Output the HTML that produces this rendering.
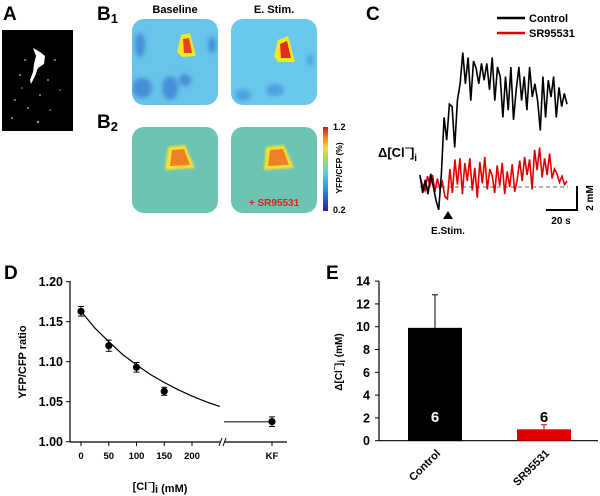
<!DOCTYPE html>
<html><head><meta charset="utf-8">
<style>
html,body{margin:0;padding:0;background:#fff;}
svg{display:block;font-family:"Liberation Sans",Arial,sans-serif;}
</style></head>
<body>
<svg id="fig" width="600" height="496" viewBox="0 0 600 496">
<defs>
  <filter id="blur2"><feGaussianBlur stdDeviation="2"/></filter>
  <filter id="blur1"><feGaussianBlur stdDeviation="1"/></filter>
  <linearGradient id="cbar" x1="0" y1="1" x2="0" y2="0">
    <stop offset="0" stop-color="#2a1f8a"/><stop offset="0.25" stop-color="#2a8fe0"/>
    <stop offset="0.45" stop-color="#50d0e0"/><stop offset="0.6" stop-color="#9ad870"/>
    <stop offset="0.75" stop-color="#f4e020"/><stop offset="0.88" stop-color="#f08020"/>
    <stop offset="1" stop-color="#c01818"/>
  </linearGradient>
  <clipPath id="t1"><rect x="132" y="19" width="86" height="86" rx="12"/></clipPath>
  <clipPath id="t2"><rect x="231" y="19" width="86" height="86" rx="12"/></clipPath>
  <clipPath id="t3"><rect x="132" y="127" width="86" height="86" rx="12"/></clipPath>
  <clipPath id="t4"><rect x="231" y="127" width="86" height="86" rx="12"/></clipPath>
</defs>

<!-- Panel A -->
<text x="3" y="20" font-size="19" font-weight="bold">A</text>
<g>
  <rect x="2" y="30" width="71" height="101" fill="#000"/>
  <path d="M33 48 L40 52 L45 56 L44 64 L38 68 L35 76 L31 84 L30 80 L33 72 L34 64 L36 56 Z" fill="#fff"/>
  <g fill="#ddd" opacity="0.7">
    <circle cx="25" cy="60" r="1"/><circle cx="20" cy="75" r="1"/><circle cx="48" cy="80" r="1"/>
    <circle cx="15" cy="100" r="1"/><circle cx="40" cy="95" r="1"/><circle cx="12" cy="118" r="1"/>
    <circle cx="38" cy="122" r="1.2"/><circle cx="55" cy="60" r="1"/><circle cx="28" cy="108" r="1"/>
    <circle cx="50" cy="110" r="0.8"/><circle cx="22" cy="88" r="0.8"/><circle cx="60" cy="90" r="0.8"/>
  </g>
</g>

<!-- Panel B -->
<text x="97" y="20" font-size="19" font-weight="bold">B<tspan font-size="13" dy="3">1</tspan></text>
<text x="97" y="128" font-size="19" font-weight="bold">B<tspan font-size="13" dy="3">2</tspan></text>
<text x="175" y="13" font-size="11" font-weight="bold" text-anchor="middle">Baseline</text>
<text x="274" y="13" font-size="11" font-weight="bold" text-anchor="middle">E. Stim.</text>

<g clip-path="url(#t1)">
  <rect x="132" y="19" width="86" height="86" fill="#68c4ea"/>
  <g fill="#3a78d0" opacity="0.7" filter="url(#blur2)">
    <ellipse cx="142" cy="88" rx="10" ry="10"/><ellipse cx="170" cy="88" rx="8" ry="12"/>
    <ellipse cx="140" cy="45" rx="5" ry="12"/><ellipse cx="185" cy="80" rx="6" ry="6"/><ellipse cx="212" cy="45" rx="4" ry="8"/>
  </g>
  <path d="M181 35 L190 33 L196 56 L182 57 L177 52 Z" fill="#f0e820"/>
  <path d="M183 39 L189 38 L192 53 L184 53 Z" fill="#e84020"/>
</g>
<g clip-path="url(#t2)">
  <rect x="231" y="19" width="86" height="86" fill="#6ac8ec"/>
  <g fill="#3a80d8" opacity="0.55" filter="url(#blur2)">
    <ellipse cx="243" cy="95" rx="8" ry="6"/><ellipse cx="275" cy="90" rx="9" ry="6"/><ellipse cx="310" cy="60" rx="3" ry="6"/>
  </g>
  <path d="M278 40 L288 36 L295 62 L278 62 L274 56 Z" fill="#f0e820"/>
  <path d="M280 44 L287 41 L291 58 L281 58 Z" fill="#e03020"/>
</g>
<g clip-path="url(#t3)">
  <rect x="132" y="127" width="86" height="86" fill="#6cc4b4"/>
  <path d="M168 147 L185 145 L195 168 L165 170 Z" fill="#f4e030" filter="url(#blur1)"/>
  <path d="M172 150 L184 149 L190 165 L170 166 Z" fill="#f08028"/>
</g>
<g clip-path="url(#t4)">
  <rect x="231" y="127" width="86" height="86" fill="#6cc4b2"/>
  <path d="M266 147 L284 145 L294 168 L264 170 Z" fill="#f4e030" filter="url(#blur1)"/>
  <path d="M270 150 L283 149 L289 165 L268 166 Z" fill="#f08028"/>
  <text x="274" y="206" font-size="10" font-weight="bold" fill="#e02020" text-anchor="middle">+ SR95531</text>
</g>
<rect x="323" y="127" width="5" height="84" fill="url(#cbar)"/>
<text x="333" y="130" font-size="9" font-weight="bold">1.2</text>
<text x="333" y="213" font-size="9" font-weight="bold">0.2</text>
<text transform="translate(342,168) rotate(-90)" font-size="8.5" font-weight="bold" text-anchor="middle">YFP/CFP (%)</text>

<!-- Panel C -->
<text x="366" y="20" font-size="19" font-weight="bold">C</text>
<g>
  <line x1="497" y1="18" x2="525" y2="18" stroke="#000" stroke-width="2.5"/>
  <text x="529" y="22" font-size="11" font-weight="bold">Control</text>
  <line x1="497" y1="33" x2="525" y2="33" stroke="#e00000" stroke-width="2.5"/>
  <text x="529" y="37" font-size="11" font-weight="bold">SR95531</text>
</g>
<text x="378" y="157" font-size="13" font-weight="bold">Δ[Cl<tspan font-size="9" dy="-6">−</tspan><tspan dy="6">]</tspan><tspan font-size="10" dy="4">i</tspan></text>
<line x1="420" y1="187" x2="568" y2="187" stroke="#333" stroke-width="0.8" stroke-dasharray="4,3"/>
<g id="traces"></g>
<line x1="577" y1="186" x2="577" y2="210" stroke="#000" stroke-width="2"/>
<line x1="546" y1="210" x2="578" y2="210" stroke="#000" stroke-width="2"/>
<text transform="translate(593,198) rotate(-90)" font-size="10" font-weight="bold" text-anchor="middle">2 mM</text>
<text x="561" y="224" font-size="10" font-weight="bold" text-anchor="middle">20 s</text>
<path d="M448 211 L453 219 L443 219 Z" fill="#000"/>
<text x="448" y="234" font-size="10" font-weight="bold" text-anchor="middle">E.Stim.</text>

<!-- Panel D -->
<text x="4" y="279" font-size="19" font-weight="bold">D</text>
<g id="chartD"></g>
<text transform="translate(26,362) rotate(-90)" font-size="11" font-weight="bold" text-anchor="middle">YFP/CFP ratio</text>
<text x="160" y="490" font-size="11" font-weight="bold" text-anchor="middle">[Cl<tspan font-size="7" dy="-5">−</tspan><tspan dy="5">]</tspan><tspan dy="3">i</tspan><tspan dy="-1"> (mM)</tspan></text>

<!-- Panel E -->
<text x="326" y="279" font-size="19" font-weight="bold">E</text>
<g id="chartE"></g>
<text transform="translate(342,362) rotate(-90)" font-size="10" font-weight="bold" text-anchor="middle">Δ[Cl<tspan font-size="7" dy="-5">−</tspan><tspan dy="5">]</tspan><tspan dy="3">i</tspan><tspan dy="-3"> (mM)</tspan></text>
</svg>

<script>
// ---- Panel C data (mM) ----
const controlTrace = [1.0,-0.5,0.6,-0.6,1.1,0,-1.1,-1.9,1.1,5.8,3.9,6.9,6.7,3.3,7.2,8.6,11.2,8.6,10.8,7.2,10.5,9.9,8.6,10.3,8.9,10.3,8.1,10.8,7.2,10,9.2,5.8,9.2,6.4,10,5.6,8.1,10,7.2,9.2,6.4,10,7.5,8.6,7.2,4.7,9.2,5.8,8.9,7.5,9.2,5.8,8.3,6.7,7.8,6.9];
const srTrace = [0.8,0.2,-0.3,0.9,0.1,1.0,-0.4,0.7,-0.2,0.4,-0.8,-1.0,1.5,-0.5,2.3,0.2,2.4,-0.6,2.0,0.5,2.4,-0.3,1.6,-0.9,2.1,0.3,2.5,-0.2,1.5,0.9,-0.5,1.8,0.1,2.0,-0.6,1.3,0.0,1.9,-0.4,0.6,2.2,0.5,2.5,1.0,2.3,-0.2,3.1,1.4,3.3,0.8,2.4,1.0,2.8,0.7,1.5,1.1,0.4,0.9,0.2,0.5];

// ---- Panel D data ----
const dConc = [0,50,100,150];
const dRatio = [1.163,1.120,1.093,1.063];
const dErr = [0.006,0.007,0.006,0.005];
const kfRatio = 1.025;
const kfErr = 0.006;
const fitConc = [0,25,50,75,100,125,150,175,200,225,250];
const fitRatio = [1.163,1.142,1.125,1.109,1.096,1.084,1.074,1.065,1.057,1.050,1.044];
const dYTicks = ["1.00","1.05","1.10","1.15","1.20"];
const dXTicks = [0,50,100,150,200];

// ---- Panel E data ----
const eCats = ["Control","SR95531"];
const eVals = [9.9,1.0];
const eErrs = [2.9,0.4];
const eN = ["6","6"];
const eYTicks = [0,2,4,6,8,10,12,14];

const NS="http://www.w3.org/2000/svg";
function mk(tag,attrs,parent){const e=document.createElementNS(NS,tag);for(const k in attrs)e.setAttribute(k,attrs[k]);parent.appendChild(e);return e;}

// Panel C
(function(){
  const g=document.getElementById('traces');
  const x0=420,x1=567,yb=187,ppm=12;
  function path(arr){return arr.map((v,i)=>(i?'L':'M')+(x0+(x1-x0)*i/(arr.length-1)).toFixed(1)+' '+(yb-v*ppm).toFixed(1)).join(' ');}
  const r=mk('path',{d:path(srTrace),fill:'none',stroke:'#e00000','stroke-width':1.6},g);
  
  
  const c=mk('path',{d:path(controlTrace),fill:'none',stroke:'#000','stroke-width':1.6},g);
  
  
})();

// Panel D
(function(){
  const g=document.getElementById('chartD');
  const ax=70, xs=c=>81+c*0.555, ys=v=>441.7-(v-1.0)*800, xKF=272;
  mk('line',{x1:ax,y1:281,x2:ax,y2:442,stroke:'#000','stroke-width':1.2},g);
  mk('line',{x1:ax,y1:442,x2:220,y2:442,stroke:'#000','stroke-width':1.2},g);
  mk('line',{x1:224,y1:442,x2:287,y2:442,stroke:'#000','stroke-width':1.2},g);
  mk('line',{x1:219,y1:446,x2:222,y2:438,stroke:'#000','stroke-width':1},g);
  mk('line',{x1:223,y1:446,x2:226,y2:438,stroke:'#000','stroke-width':1},g);
  dYTicks.forEach(t=>{const y=ys(parseFloat(t));
    mk('line',{x1:ax-4,y1:y,x2:ax,y2:y,stroke:'#000'},g);
    const tx=mk('text',{x:63,y:y+4.5,'font-size':12.5,'font-weight':'bold','text-anchor':'end'},g);tx.textContent=t;
    
    });
  dXTicks.forEach(t=>{const x=xs(t);
    mk('line',{x1:x,y1:442,x2:x,y2:446,stroke:'#000'},g);
    const tx=mk('text',{x:x,y:459,'font-size':9.5,'font-weight':'bold','text-anchor':'middle'},g);tx.textContent=t;
    
    });
  mk('line',{x1:xKF,y1:442,x2:xKF,y2:446,stroke:'#000'},g);
  const kt=mk('text',{x:xKF,y:459,'font-size':9.5,'font-weight':'bold','text-anchor':'middle'},g);kt.textContent='KF';
  
  
  const fit=mk('path',{d:fitConc.map((c,i)=>(i?'L':'M')+xs(c).toFixed(1)+' '+ys(fitRatio[i]).toFixed(1)).join(' '),fill:'none',stroke:'#000','stroke-width':1.2},g);
  
  
  const kl=mk('line',{x1:224,y1:ys(kfRatio),x2:xKF,y2:ys(kfRatio),stroke:'#555','stroke-width':1.5},g);
  
  
  function pt(x,v,e){
    mk('line',{x1:x,y1:ys(v+e),x2:x,y2:ys(v-e),stroke:'#000'},g);
    mk('line',{x1:x-3,y1:ys(v+e),x2:x+3,y2:ys(v+e),stroke:'#000'},g);
    mk('line',{x1:x-3,y1:ys(v-e),x2:x+3,y2:ys(v-e),stroke:'#000'},g);
    const c=mk('circle',{cx:x,cy:ys(v),r:3.6,fill:'#000'},g);
    
    
  }
  dConc.forEach((c,i)=>pt(xs(c),dRatio[i],dErr[i]));
  pt(xKF,kfRatio,kfErr);
})();

// Panel E
(function(){
  const g=document.getElementById('chartE');
  const ax=379, y0=440.7, ppu=11.4, ys=v=>y0-v*ppu;
  const centers=[435,544], bw=54, colors=['#000','#e00000'];
  mk('line',{x1:ax,y1:ys(14),x2:ax,y2:y0,stroke:'#000','stroke-width':1.2},g);
  mk('line',{x1:ax,y1:y0,x2:598,y2:y0,stroke:'#000','stroke-width':1.2},g);
  eYTicks.forEach(t=>{const y=ys(t);
    mk('line',{x1:ax-4,y1:y,x2:ax,y2:y,stroke:'#000'},g);
    const tx=mk('text',{x:370,y:y+4.5,'font-size':12.5,'font-weight':'bold','text-anchor':'end'},g);tx.textContent=t;
    
    });
  eCats.forEach((c,i)=>{
    const cx=centers[i], top=ys(eVals[i]), et=ys(eVals[i]+eErrs[i]);
    mk('line',{x1:cx,y1:top,x2:cx,y2:et,stroke:colors[i],'stroke-width':1},g);
    mk('line',{x1:cx-3,y1:et,x2:cx+3,y2:et,stroke:colors[i],'stroke-width':1},g);
    const b=mk('rect',{x:cx-bw/2,y:top,width:bw,height:y0-top,fill:colors[i]},g);
    
    
    const n=mk('text',{x:cx,y:422,'font-size':15,'font-weight':'bold','text-anchor':'middle',fill:i===0?'#fff':'#000'},g);n.textContent=eN[i];
    
    
    const l=mk('text',{transform:'translate('+(cx+6)+',454) rotate(-45)','font-size':11,'font-weight':'bold','text-anchor':'end'},g);l.textContent=c;
    
    
  });
})();
</script>
</body></html>
